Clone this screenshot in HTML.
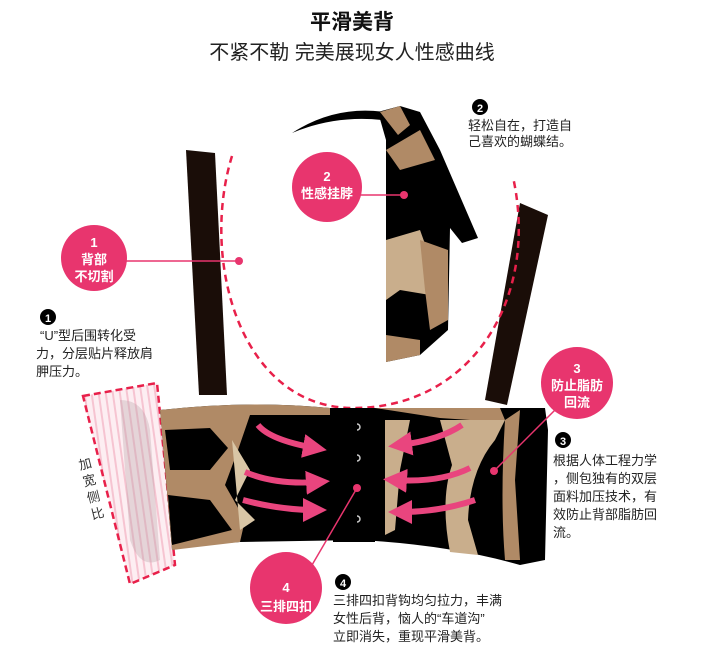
<!DOCTYPE html>
<html><head><meta charset="utf-8"><style>
html,body{margin:0;padding:0;background:#fff;width:704px;height:646px;overflow:hidden}
svg{display:block}
text{font-family:"Liberation Sans","Noto Sans CJK SC",sans-serif}
</style></head><body>
<svg width="704" height="646" viewBox="0 0 704 646" xmlns="http://www.w3.org/2000/svg">
<defs>
<pattern id="st" width="7" height="7" patternUnits="userSpaceOnUse" patternTransform="rotate(-8)">
<rect width="7" height="7" fill="#fdeef2"/><rect width="2" height="7" fill="#f6c4d1"/></pattern>
<marker id="ah" markerWidth="4" markerHeight="4" refX="2" refY="2" orient="auto"><path d="M0,0L4,2L0,4z" fill="#e9457e"/></marker>
</defs>
<text x="352" y="29" font-size="21" font-weight="bold" text-anchor="middle" fill="#111">平滑美背</text>
<text x="352" y="59" font-size="20" text-anchor="middle" fill="#222">不紧不勒 完美展现女人性感曲线</text>

<!-- straps -->
<polygon points="186,150 215,153 227,395 199,395" fill="#1a0d08"/>
<polygon points="520,203 548,215 507,405 485,400" fill="#1a0d08"/>
<!-- dashed U -->
<path d="M232,156 C200,260 240,405 350,408 C470,410 540,300 513,177" fill="none" stroke="#e8204a" stroke-width="2.5" stroke-dasharray="7,5"/>

<!-- neck tie -->
<path d="M292,133 Q335,105 385,112 L382,120 Q335,115 292,133z" fill="#000"/>
<path d="M386,140 L378,112 L400,106 L420,112 L440,150 L478,238 L462,243 L450,228 L448,330 L420,355 L386,362 Z" fill="#000"/>
<path d="M380,112 L400,106 L410,125 L398,135Z" fill="#b08a66"/>
<path d="M386,150 L420,130 L435,160 L400,170 Z" fill="#b08a66"/>
<path d="M386,240 L420,230 L438,280 L430,295 L400,290 L386,300Z" fill="#c9ae8c"/>
<path d="M420,240 L448,250 L448,320 L430,330 L425,290Z" fill="#b08a66"/>
<path d="M386,335 L420,340 L420,355 L386,362Z" fill="#b08a66"/>

<!-- side pink panel -->
<polygon points="83,396 157,383 175,565 130,584" fill="url(#st)" stroke="#e8204a" stroke-width="2.5" stroke-dasharray="7,4"/>
<path d="M120,400 Q145,400 150,430 L160,560 Q140,570 130,540 Z" fill="#b7a2a8" opacity=".35"/>
<text font-size="13" fill="#333" transform="translate(80,470) rotate(-14)"><tspan x="0" y="0">加</tspan><tspan x="0" y="17">宽</tspan><tspan x="0" y="34">侧</tspan><tspan x="0" y="51">比</tspan></text>

<!-- band -->
<path d="M160,410 Q250,400 330,408 L545,408 L548,430 L545,560 L520,565 Q450,545 360,540 L240,542 Q200,545 172,550 Z" fill="#000"/>
<path d="M160,410 Q250,400 330,408 L330,415 L250,415 L238,450 L225,485 L245,520 L240,542 L172,550 Z" fill="#b08a66"/>
<path d="M165,430 L210,428 L228,448 L210,470 L170,470 Z" fill="#000"/>
<path d="M168,495 L210,500 L232,530 L172,545Z" fill="#000"/>
<path d="M232,440 L250,470 L235,500 L255,520 L240,530 Z" fill="#d9c6a6"/>
<path d="M375,408 L500,408 L505,420 L470,420 L440,418 Z" fill="#b08a66"/>
<path d="M385,420 L410,420 L400,470 L395,530 L385,535Z" fill="#c9ae8c"/>
<path d="M440,420 L505,420 L495,440 Q470,470 468,520 L478,555 L450,552 Q440,500 452,465 Z" fill="#c9ae8c"/>
<path d="M505,420 L520,410 L515,480 L520,560 L505,560 Q500,500 505,420Z" fill="#b08a66"/>
<!-- hook strip -->
<rect x="333" y="410" width="42" height="132" fill="#000"/>
<g fill="none" stroke="#ccc" stroke-width="1.5">
<path d="M357,424 a3,3 0 1 1 0,6"/><path d="M357,455 a3,3 0 1 1 0,6"/><path d="M357,516 a3,3 0 1 1 0,6"/>
</g>
<!-- arrows -->
<g fill="none" stroke="#e9457e" stroke-width="6" marker-end="url(#ah)">
<path d="M258,425 Q270,440 315,448"/><path d="M245,472 Q275,485 318,482"/><path d="M243,500 Q280,510 315,510"/>
<path d="M462,425 Q440,440 400,445"/><path d="M470,468 Q440,483 395,480"/><path d="M475,500 Q440,512 400,512"/>
</g>

<!-- circles & leaders -->
<g stroke="#e8356e" stroke-width="1.5">
<line x1="124" y1="261" x2="239" y2="261"/>
<line x1="360" y1="195" x2="404" y2="195"/>
<line x1="555" y1="410" x2="494" y2="471"/>
<line x1="305" y1="577" x2="357" y2="488"/>
</g>
<g fill="#e8356e">
<circle cx="239" cy="261" r="4"/><circle cx="404" cy="195" r="4"/><circle cx="494" cy="471" r="4"/><circle cx="357" cy="488" r="4"/>
<circle cx="94" cy="258" r="33"/><circle cx="327" cy="187" r="35"/><circle cx="577" cy="383" r="36"/><circle cx="286" cy="588" r="36"/>
</g>
<g fill="#fff" font-weight="bold" font-size="13" text-anchor="middle">
<text x="94" y="247">1</text><text x="94" y="264">背部</text><text x="94" y="281">不切割</text>
<text x="327" y="181">2</text><text x="327" y="198">性感挂脖</text>
<text x="577" y="373">3</text><text x="577" y="390">防止脂肪</text><text x="577" y="407">回流</text>
<text x="286" y="592">4</text><text x="286" y="611">三排四扣</text>
</g>

<!-- numbered notes -->
<g font-size="13" fill="#222">
<circle cx="48" cy="317" r="8" fill="#000"/><text x="48" y="322" fill="#fff" font-size="11" font-weight="bold" text-anchor="middle">1</text>
<text x="40" y="340">“U”型后围转化受</text><text x="36" y="358">力，分层贴片释放肩</text><text x="36" y="376">胛压力。</text>
<circle cx="480" cy="107" r="8" fill="#000"/><text x="480" y="112" fill="#fff" font-size="11" font-weight="bold" text-anchor="middle">2</text>
<text x="468" y="130">轻松自在，打造自</text><text x="468" y="146">己喜欢的蝴蝶结。</text>
<circle cx="563" cy="440" r="8" fill="#000"/><text x="563" y="445" fill="#fff" font-size="11" font-weight="bold" text-anchor="middle">3</text>
<text x="553" y="465">根据人体工程力学</text><text x="553" y="483">，侧包独有的双层</text><text x="553" y="501">面料加压技术，有</text><text x="553" y="519">效防止背部脂肪回</text><text x="553" y="537">流。</text>
<circle cx="343" cy="582" r="8" fill="#000"/><text x="343" y="587" fill="#fff" font-size="11" font-weight="bold" text-anchor="middle">4</text>
<text x="333" y="605">三排四扣背钩均匀拉力，丰满</text><text x="333" y="623">女性后背，恼人的“车道沟”</text><text x="333" y="641">立即消失，重现平滑美背。</text>
</g>
</svg>
</body></html>
